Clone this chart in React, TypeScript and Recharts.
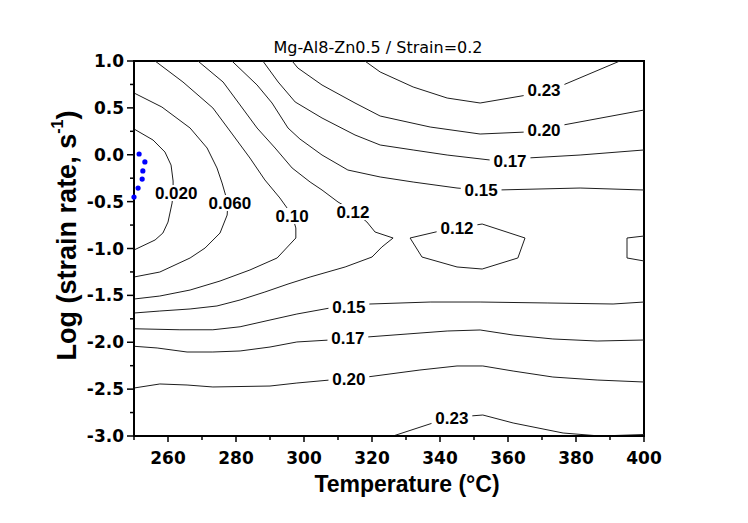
import React from 'react';
import { ComposedChart, Line, Scatter, XAxis, YAxis, ReferenceArea, Customized } from 'recharts';

// contour lines: [temperature (°C), log strain rate]
const c020: [number, number][] = [
  [250, 0.275], [255.6, 0.157], [259.1, 0.029], [260.9, -0.11], [261.5, -0.28], [261.5, -0.408],
  [261.2, -0.515], [260.0, -0.718], [258.5, -0.835], [256.2, -0.909], [250, -1.016],
];
const c060: [number, number][] = [
  [250, 0.659], [258.2, 0.509], [266.5, 0.285], [271.5, 0.072], [274.4, -0.141], [275.9, -0.301],
  [277.6, -0.515], [277.4, -0.643], [275.3, -0.835], [270.9, -0.995], [266.5, -1.101],
  [257.6, -1.251], [250, -1.304],
];
const c100: [number, number][] = [
  [256.2, 1.0], [264.4, 0.776], [273.2, 0.499], [279.1, 0.211], [284.1, -0.035], [288.5, -0.269],
  [292.9, -0.461], [296.5, -0.643], [297.6, -0.781], [297.6, -0.888], [292.1, -1.101],
  [284.1, -1.229], [275.3, -1.347], [266.5, -1.443], [257.6, -1.507], [250, -1.539],
];
const c120: [number, number][] = [
  [268.8, 1.0], [276.2, 0.776], [281.2, 0.531], [286.2, 0.285], [291.5, 0.072], [296.5, -0.141],
  [301.8, -0.291], [305.3, -0.376], [310.0, -0.504], [315.0, -0.611], [318.5, -0.717],
  [320.9, -0.824], [326.2, -0.888], [322.9, -0.984], [320.0, -1.091], [312.1, -1.197],
  [301.8, -1.304], [295.3, -1.379], [288.5, -1.464], [281.2, -1.549], [274.4, -1.613],
  [266.5, -1.645], [257.6, -1.667], [250, -1.688],
];
const c120Island: [number, number][] = [
  [340.0, -0.813], [331.2, -0.888], [334.7, -1.091], [345.0, -1.197], [352.4, -1.219],
  [362.9, -1.101], [365.0, -0.888], [352.4, -0.739], [345.0, -0.781], [340.0, -0.813],
];
const c120Edge: [number, number][] = [[400, -0.867], [395.0, -0.888], [395.0, -1.101], [400, -1.133]];
const c150Top: [number, number][] = [
  [278.8, 1.0], [286.2, 0.744], [290.6, 0.552], [295.3, 0.285], [298.8, 0.168], [305.3, -0.003],
  [312.9, -0.163], [322.4, -0.237], [332.1, -0.291], [345.0, -0.355], [352.1, -0.376],
  [356.8, -0.376], [381.2, -0.355], [400, -0.376],
];
const c150Low: [number, number][] = [
  [250, -1.856], [263.5, -1.867], [273.2, -1.867], [281.2, -1.835], [290.0, -1.763], [297.9, -1.699],
  [307.6, -1.635], [313.5, -1.613], [319.4, -1.592], [337.1, -1.571], [351.8, -1.571],
  [371.5, -1.581], [390.9, -1.592], [400, -1.571],
];
const c170Top: [number, number][] = [
  [287.9, 1.0], [292.4, 0.776], [297.4, 0.563], [305.3, 0.392], [315.0, 0.211], [322.4, 0.104],
  [332.1, 0.051], [342.1, -0.003], [354.7, -0.056], [360.6, -0.067], [365.6, -0.035],
  [381.2, -0.003], [400, 0.051],
];
const c170Low: [number, number][] = [
  [250, -2.043], [256.8, -2.061], [265.6, -2.104], [273.2, -2.104], [281.2, -2.093], [290.0, -2.051],
  [297.9, -1.997], [307.6, -1.976], [312.9, -1.955], [318.5, -1.944], [330.3, -1.912],
  [342.1, -1.88], [351.8, -1.869], [361.5, -1.923], [373.2, -1.965], [386.2, -1.987], [400, -1.976],
];
const c200Top: [number, number][] = [
  [296.5, 1.0], [298.2, 0.925], [305.3, 0.744], [315.0, 0.552], [322.4, 0.413], [337.1, 0.296],
  [351.8, 0.221], [365.6, 0.243], [370.6, 0.264], [376.2, 0.317], [400, 0.477],
];
const c200Low: [number, number][] = [
  [250, -2.488], [257.6, -2.445], [265.6, -2.456], [273.2, -2.477], [290.0, -2.467], [297.9, -2.435],
  [307.6, -2.403], [313.2, -2.392], [318.5, -2.371], [334.1, -2.296], [345.0, -2.253],
  [352.6, -2.253], [361.5, -2.307], [373.2, -2.371], [386.2, -2.403], [400, -2.424],
];
const c230Top: [number, number][] = [
  [317.9, 1.0], [322.4, 0.883], [332.1, 0.723], [342.1, 0.605], [351.8, 0.552], [365.6, 0.637],
  [370.6, 0.691], [376.2, 0.744], [392.9, 1.0],
];
const c230Low: [number, number][] = [
  [326.2, -3.0], [337.9, -2.861], [343.5, -2.808], [348.8, -2.787], [352.6, -2.776], [361.5, -2.861],
  [376.2, -2.968], [387.1, -3.0], [400, -2.984],
];

// contour level labels: [temperature, log strain rate, text]
const levelLabels: [number, number, string][] = [
  [262.4, -0.408, '0.020'], [278.2, -0.515, '0.060'], [296.5, -0.653, '0.10'], [314.4, -0.611, '0.12'],
  [352.1, -0.376, '0.15'], [360.6, -0.067, '0.17'], [370.6, 0.264, '0.20'], [370.6, 0.691, '0.23'],
  [345.0, -0.781, '0.12'], [313.2, -1.624, '0.15'], [312.9, -1.955, '0.17'], [313.2, -2.392, '0.20'],
  [343.5, -2.808, '0.23'],
];

// blue points near the left edge
const bluePts: [number, number][] = [
  [251.5, 0.008], [253.2, -0.077], [252.6, -0.173], [252.4, -0.259], [251.2, -0.355], [250.0, -0.451],
];

const xTicks = [250, 260, 270, 280, 290, 300, 310, 320, 330, 340, 350, 360, 370, 380, 390, 400];
const yTicks = [-3, -2.75, -2.5, -2.25, -2, -1.75, -1.5, -1.25, -1, -0.75, -0.5, -0.25, 0, 0.25, 0.5, 0.75, 1];

const contours = [
  c020, c060, c100, c120, c120Island, c120Edge, c150Top, c150Low,
  c170Top, c170Low, c200Top, c200Low, c230Top, c230Low,
];

const toPts = (arr: [number, number][]) => arr.map(([x, y]) => ({ x, y }));

const XTick = (props: any) => {
  const { x, y, payload } = props;
  const major = payload.value % 20 === 0;
  return (
    <g>
      <line x1={x} y1={y} x2={x} y2={y + (major ? 6 : 4)} stroke="#000" strokeWidth={1.5} />
      {major && (
        <text x={x} y={y + 28} textAnchor="middle" fontFamily="DejaVu Sans" fontWeight="bold" fontSize={17} fill="#000">
          {payload.value}
        </text>
      )}
    </g>
  );
};

const YTick = (props: any) => {
  const { x, y, payload } = props;
  const v = payload.value;
  const major = Math.abs(v * 2 - Math.round(v * 2)) < 1e-6;
  return (
    <g>
      <line x1={x} y1={y} x2={x - (major ? 7 : 4)} y2={y} stroke="#000" strokeWidth={1.5} />
      {major && (
        <text x={x - 10} y={y + 6} textAnchor="end" fontFamily="DejaVu Sans" fontWeight="bold" fontSize={17} fill="#000">
          {v.toFixed(1)}
        </text>
      )}
    </g>
  );
};

const LevelLabel = (props: any) => {
  const { cx, cy, payload } = props;
  const w = payload.text.length * 9.2 + 4;
  return (
    <g>
      <rect x={cx - w / 2} y={cy - 8} width={w} height={16} fill="#fff" />
      <text x={cx} y={cy + 6} textAnchor="middle" fontFamily="Liberation Sans, Arial" fontWeight="bold" fontSize={17} fill="#000">
        {payload.text}
      </text>
    </g>
  );
};

const Title = () => (
  <text x={370} y={45} textAnchor="middle" fontFamily="DejaVu Sans" fontSize={16} fill="#000">
    Mg-Al8-Zn0.5 / Strain=0.2
  </text>
);

export default function App() {
  const labelData = levelLabels.map(([x, y, text]) => ({ x, y, text }));
  return (
    <ComposedChart width={732} height={507} margin={{ top: 53, right: 96, bottom: 19, left: 46 }}>
      <XAxis
        type="number"
        dataKey="x"
        domain={[250, 400]}
        ticks={xTicks}
        interval={0}
        tickSize={0}
        tickMargin={0}
        tickLine={false}
        tick={<XTick />}
        height={60}
        axisLine={{ stroke: '#000', strokeWidth: 2 }}
        label={{
          content: (p: any) => {
            const vb = p.viewBox;
            return (
              <text x={vb.x + vb.width / 2 + 18} y={vb.y + 56} textAnchor="middle" fontFamily="Liberation Sans, Arial" fontWeight="bold" fontSize={23} fill="#000">
                Temperature (°C)
              </text>
            );
          },
        }}
      />
      <YAxis
        type="number"
        dataKey="y"
        domain={[-3, 1]}
        ticks={yTicks}
        interval={0}
        tickSize={0}
        tickMargin={0}
        tickLine={false}
        tick={<YTick />}
        width={80}
        axisLine={{ stroke: '#000', strokeWidth: 2 }}
        label={{
          content: (p: any) => {
            const vb = p.viewBox;
            const cx = vb.x + 13;
            const cy = vb.y + vb.height / 2 - 13;
            return (
              <text
                x={cx}
                y={cy}
                transform={`rotate(-90 ${cx} ${cy})`}
                textAnchor="middle"
                dominantBaseline="central"
                fontFamily="Liberation Sans, Arial"
                fontWeight="bold"
                fontSize={27}
                fill="#000"
              >
                Log (strain rate, s
                <tspan dy={-10} fontSize={16}>-1</tspan>
                <tspan dy={10}>)</tspan>
              </text>
            );
          },
        }}
      />
      {contours.map((c, i) => (
        <Line
          key={`c-${i}`}
          data={toPts(c)}
          dataKey="y"
          type="linear"
          stroke="#1e1e1e"
          strokeWidth={1}
          dot={false}
          activeDot={false}
          isAnimationActive={false}
        />
      ))}
      <Scatter data={labelData} dataKey="y" shape={<LevelLabel />} isAnimationActive={false} />
      <Scatter data={toPts(bluePts)} dataKey="y" fill="#0000ff" shape={(p: any) => <circle cx={p.cx} cy={p.cy} r={2.6} fill="#0000ff" />} isAnimationActive={false} />
      <ReferenceArea x1={250} x2={400} y1={-3} y2={1} fill="none" stroke="#000" strokeWidth={2} />
      <Customized component={Title} />
    </ComposedChart>
  );
}
